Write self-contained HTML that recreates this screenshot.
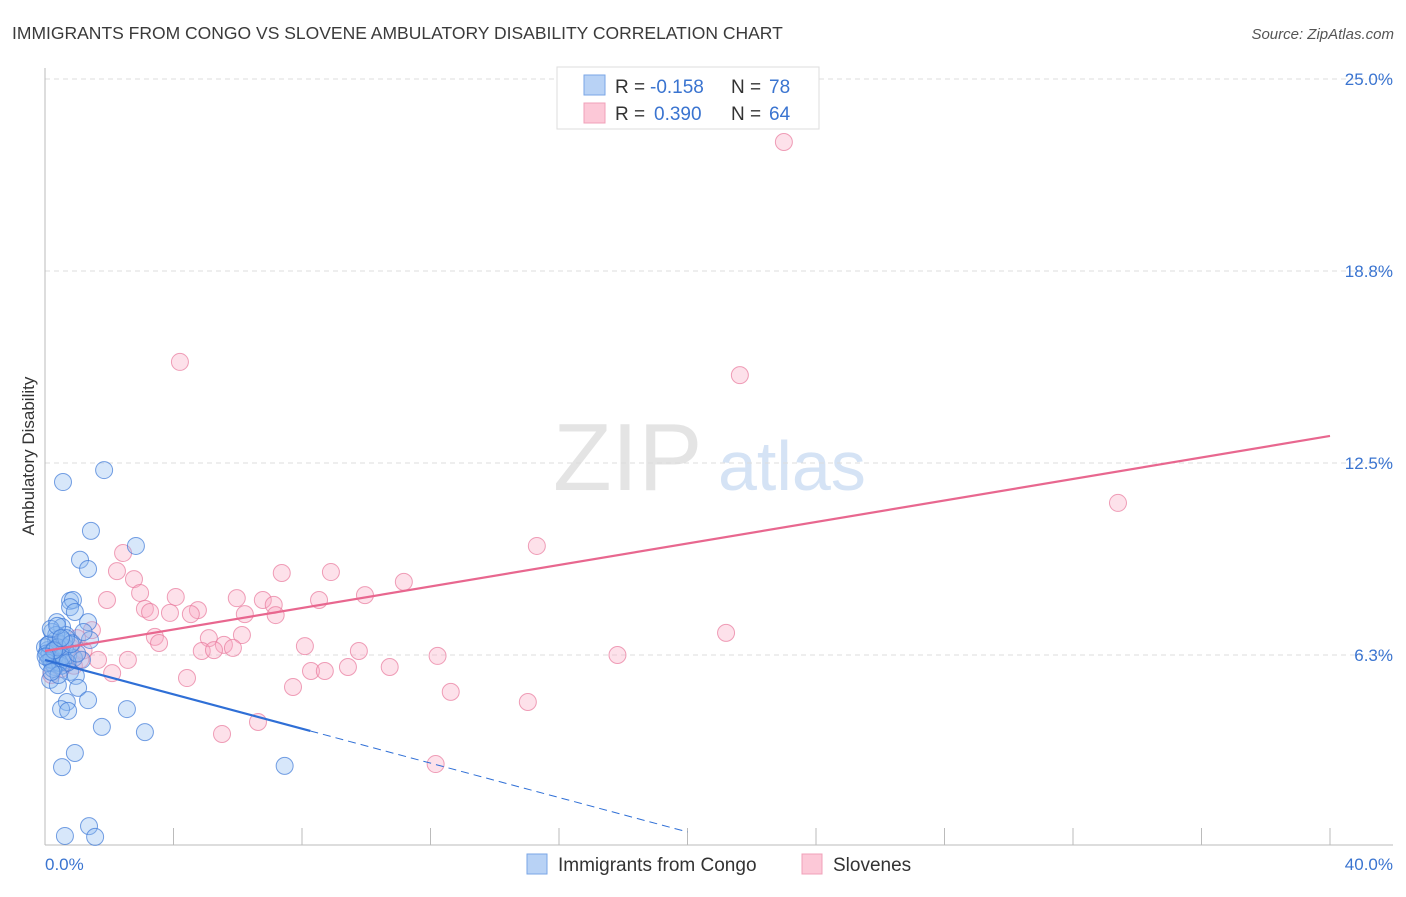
<!DOCTYPE html>
<html><head><meta charset="utf-8"><style>
body{margin:0;background:#fff;font-family:"Liberation Sans",sans-serif}
svg text{font-family:"Liberation Sans",sans-serif}
</style></head><body>
<svg id="chart" width="1406" height="892" viewBox="0 0 1406 892" xmlns="http://www.w3.org/2000/svg">
<text x="12" y="39" font-size="17.5" fill="#3a3a3a">IMMIGRANTS FROM CONGO VS SLOVENE AMBULATORY DISABILITY CORRELATION CHART</text>
<text x="1394" y="39" font-size="15" fill="#555" text-anchor="end" font-style="italic">Source: ZipAtlas.com</text>
<g>
<text x="553" y="490" font-size="96" fill="#e4e4e4" font-family="Liberation Serif,serif">ZIP</text>
<text x="718" y="490" font-size="70" fill="#d5e3f5">atlas</text>
</g>
<g id="grid"></g>
<g id="axes"></g>
<g id="pinkPts"></g>
<g id="bluePts"></g>
<g id="lines"></g>
<text transform="translate(34,456) rotate(-90)" font-size="17" fill="#333" text-anchor="middle">Ambulatory Disability</text>
<g>
<rect x="557" y="67" width="262" height="62" fill="#fff" stroke="#ddd"/>
<rect x="584" y="75" width="21" height="20" fill="#b8d2f5" stroke="#7aa6e6"/>
<rect x="584" y="103" width="21" height="20" fill="#fcc8d7" stroke="#f0a0b8"/>
<text x="615" y="93" font-size="19" fill="#333">R =</text>
<text x="650" y="93" font-size="19" fill="#3a74d0">-0.158</text>
<text x="731" y="93" font-size="19" fill="#333">N =</text>
<text x="769" y="93" font-size="19" fill="#3a74d0">78</text>
<text x="615" y="120" font-size="19" fill="#333">R =</text>
<text x="654" y="120" font-size="19" fill="#3a74d0">0.390</text>
<text x="731" y="120" font-size="19" fill="#333">N =</text>
<text x="769" y="120" font-size="19" fill="#3a74d0">64</text>
</g>
<g>
<rect x="527" y="854" width="20" height="20" fill="#b8d2f5" stroke="#7aa6e6"/>
<text x="558" y="871" font-size="19" fill="#333">Immigrants from Congo</text>
<rect x="802" y="854" width="20" height="20" fill="#fcc8d7" stroke="#f0a0b8"/>
<text x="833" y="871" font-size="19" fill="#333">Slovenes</text>
</g>
</svg>
<script>
const yTicks=[6.25,12.5,18.75,25];
const yTickLabels=["6.3%","12.5%","18.8%","25.0%"];
const xTickVals=[0,4,8,12,16,20,24,28,32,36,40];
const xEndLabels=["0.0%","40.0%"];
const blueX=[0.56,1.84,1.43,2.83,1.09,1.34,0.78,0.87,0.78,0.93,1.34,0.37,0.53,0.22,0.65,1.40,0.34,0.84,0.09,0.25,0.47,0.72,0.90,0.16,0.37,0.56,1.15,0.31,0.78,0.96,0.16,0.40,1.03,1.34,0.68,0.50,0.72,2.55,1.77,3.11,0.93,0.53,7.46,1.37,0.62,1.56,0.09,0.22,0.0,0.47,0.62,0.3,0.5,0.15,0.1,0.3,0.2,0.45,0.05,0.6,0.35,0.12,0.25,0.55,0.7,0.4,0.18,0.08,0.28,0.42,1.0,1.2,0.66,0.02,0.38,0.8,0.2,0.5];
const blueY=[11.88,12.27,10.29,9.80,9.35,9.05,8.01,8.04,7.81,7.65,7.32,7.32,7.16,7.00,6.90,6.74,6.74,6.64,6.58,6.41,6.35,6.25,6.15,6.09,5.99,6.05,6.09,5.86,5.70,5.57,5.44,5.27,5.18,4.78,4.72,4.49,4.43,4.49,3.91,3.74,3.06,2.60,2.64,0.68,0.36,0.33,6.41,6.0,6.5,6.6,6.5,6.2,5.9,6.3,6.2,6.4,6.1,6.0,6.3,6.7,6.9,6.6,5.8,6.2,6.0,6.5,7.1,6.0,6.4,5.6,6.3,7.0,6.8,6.2,7.2,6.6,5.7,6.8];
const pinkX=[23.0,4.20,21.63,33.40,15.31,2.43,2.24,2.77,7.37,8.90,11.17,1.93,2.96,4.07,5.97,6.78,8.53,9.96,7.12,3.11,3.27,3.89,4.76,4.54,6.22,7.18,1.46,3.42,3.55,5.10,6.13,8.09,21.2,5.57,4.88,5.26,5.85,9.77,12.22,17.82,2.58,1.65,2.09,8.28,8.71,9.43,10.73,4.42,7.72,12.63,15.03,6.63,5.51,12.16,0.3,0.5,0.8,1.0,0.2,0.6,1.2,0.4,0.9,1.1];
const pinkY=[22.95,15.79,15.36,11.20,9.80,9.57,8.98,8.72,8.92,8.95,8.63,8.04,8.27,8.14,8.10,8.04,8.04,8.20,7.88,7.75,7.65,7.62,7.71,7.58,7.58,7.55,7.06,6.84,6.64,6.80,6.90,6.54,6.97,6.58,6.38,6.41,6.48,6.38,6.22,6.25,6.09,6.09,5.66,5.73,5.73,5.86,5.86,5.50,5.21,5.05,4.72,4.07,3.68,2.70,6.2,5.8,6.5,6.8,5.6,6.0,6.4,6.6,5.9,6.1];
const pinkTrend=[6.38,13.38];   // y at x=0 and x=40
const blueTrend=[6.09,-0.28];   // intercept, slope
const blueSolidEnd=8.26, blueDashEnd=20.0;

const NS="http://www.w3.org/2000/svg";
const X0=45,X1=1330,Y0=847,YPX=192/6.25;
const sx=v=>X0+(v/40)*(X1-X0);
const sy=v=>Y0-v*YPX;
function mk(tag,attrs,parent){const e=document.createElementNS(NS,tag);for(const k in attrs)e.setAttribute(k,attrs[k]);parent.appendChild(e);return e;}
const grid=document.getElementById('grid'),axes=document.getElementById('axes');
yTicks.forEach((t,i)=>{
  const l=mk('line',{x1:45,x2:1393,y1:sy(t),y2:sy(t),stroke:'#ddd','stroke-dasharray':'5,4'},grid);
  
  
  const tx=mk('text',{x:1393,y:sy(t)+6,'font-size':17,fill:'#3a74d0','text-anchor':'end'},axes);
  tx.textContent=yTickLabels[i];
  
  
});
const ya=mk('line',{x1:45,x2:45,y1:68,y2:845,stroke:'#bbb'},axes);


const xa=mk('line',{x1:45,x2:1393,y1:845,y2:845,stroke:'#bbb'},axes);


xTickVals.forEach(v=>{
  const t=mk('line',{x1:sx(v),x2:sx(v),y1:828,y2:845,stroke:'#bbb'},axes);
  
  
});
const xl0=mk('text',{x:45,y:870,'font-size':17,fill:'#3a74d0'},axes);xl0.textContent=xEndLabels[0];


const xl1=mk('text',{x:1393,y:870,'font-size':17,fill:'#3a74d0','text-anchor':'end'},axes);xl1.textContent=xEndLabels[1];


const pg=document.getElementById('pinkPts'),bg=document.getElementById('bluePts');
pinkX.forEach((x,i)=>{
  const c=mk('circle',{cx:sx(x),cy:sy(pinkY[i]),r:8.5,fill:'rgba(248,170,195,0.35)',stroke:'rgba(232,120,155,0.7)','stroke-width':1},pg);
  
  
});
blueX.forEach((x,i)=>{
  const c=mk('circle',{cx:sx(x),cy:sy(blueY[i]),r:8.5,fill:'rgba(140,185,240,0.35)',stroke:'rgba(60,120,215,0.7)','stroke-width':1},bg);
  
  
});
const lg=document.getElementById('lines');
const pl=mk('line',{x1:sx(0),y1:sy(pinkTrend[0]),x2:sx(40),y2:sy(pinkTrend[1]),stroke:'#e8678f','stroke-width':2.2},lg);


const by=x=>blueTrend[0]+blueTrend[1]*x;
const bl=mk('line',{x1:sx(0),y1:sy(by(0)),x2:sx(blueSolidEnd),y2:sy(by(blueSolidEnd)),stroke:'#2f6fd6','stroke-width':2.2},lg);


const bd=mk('line',{x1:sx(blueSolidEnd),y1:sy(by(blueSolidEnd)),x2:sx(blueDashEnd),y2:sy(by(blueDashEnd)),stroke:'#2f6fd6','stroke-width':1,'stroke-dasharray':'8,5'},lg);


</script>
</body></html>
